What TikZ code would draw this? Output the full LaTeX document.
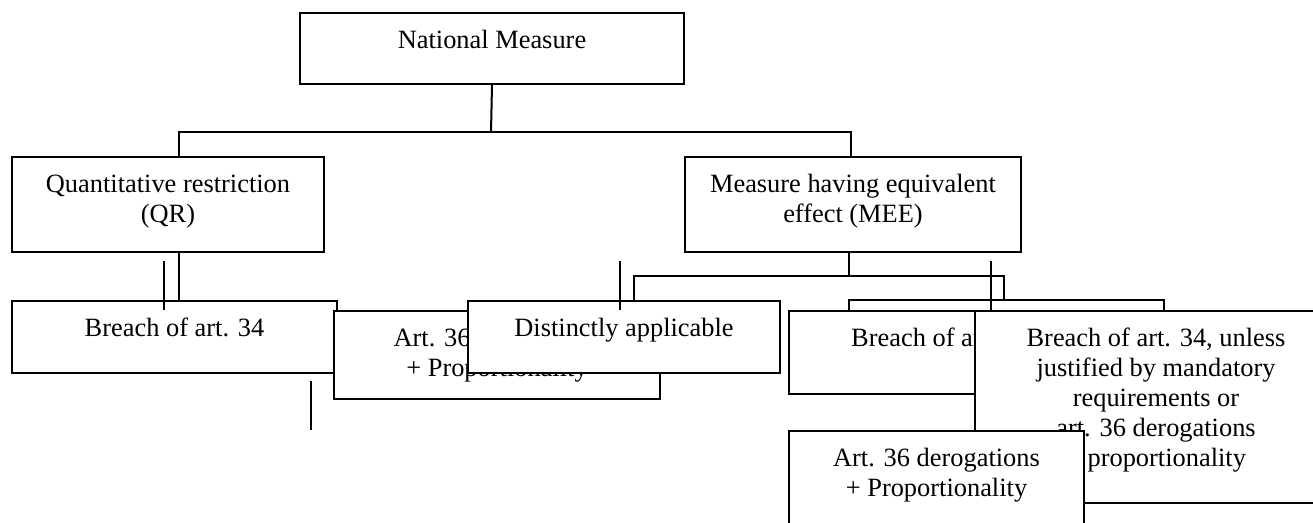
\documentclass[tikz,border=0pt]{standalone}
\usepackage{fontspec}
\setmainfont{Liberation Serif}
\tikzset{
  box/.style={draw=black, fill=white, line width=2pt, inner sep=0pt,
    text height=35pt, anchor=north west,
    font=\fontsize{26.4}{30}\selectfont},
  conn/.style={draw=black, line width=2pt}
}
\newcommand{\bx}[2]{\parbox[t]{#1pt}{\centering #2}}
\begin{document}
\begin{tikzpicture}[x=1pt, y=-1pt]
\useasboundingbox (0,0) rectangle (1313,522);
% boxes (in drawing order)
\node[box, text depth=36pt] (nm) at (299,12) {\bx{384}{National Measure}};
\node[box, text depth=60pt] (qr) at (11,156) {\bx{312}{Quantitative restriction\\(QR)}};
\node[box, text depth=60pt] (mee) at (684,156) {\bx{336}{Measure having equivalent\\effect (MEE)}};
\node[box, text depth=37pt] (b34) at (11,300) {\bx{325}{Breach of art. 34}};
\node[box, text depth=53pt] (a36) at (333,310) {\bx{326}{Art. 36 derogations\\+ Proportionality}};
\node[box, text depth=37pt] (da) at (467,300) {\bx{312}{Distinctly applicable}};
\node[box, text depth=48pt] (b34b) at (788,310) {\bx{304}{Breach of art. 34}};
\node[box, text depth=157pt] (big) at (974,310) {\bx{362}{Breach of art. 34, unless\\justified by mandatory\\requirements or\\art. 36 derogations\\+ proportionality}};
\node[box, text depth=75pt] (a36b) at (788,430) {\bx{295}{Art. 36 derogations\\+ Proportionality}};
% junction coordinates
\coordinate (j1) at (491,132);
\coordinate (qrc) at (179,132);
\coordinate (mec) at (851,132);
\coordinate (m1) at (849,276);
\coordinate (da1) at (634,276);
\coordinate (r1) at (1004,276);
\coordinate (r2) at (1004,300);
\coordinate (br1) at (849,300);
\coordinate (br2) at (1164,300);
% connectors
\draw[conn] (nm.south) -- (j1);
\draw[conn] (qrc |- qr.north) -- (qrc) -- (mec) -- (mec |- mee.north);
\draw[conn] (qr.south -| qrc) -- (qrc |- b34.north);
\draw[conn] (mee.south -| m1) -- (m1);
\draw[conn] (da1 |- da.north) -- (da1) -- (r1) -- (r2);
\draw[conn] (br1 |- b34b.north) -- (br1) -- (br2) -- (br2 |- big.north);
% stray strokes
\coordinate (s1a) at (164,261); \coordinate (s1b) at (164,310);
\coordinate (s2a) at (620,261); \coordinate (s2b) at (620,310);
\coordinate (s3a) at (991,261); \coordinate (s3b) at (991,310);
\coordinate (s4a) at (311,381); \coordinate (s4b) at (311,430);
\draw[conn] (s1a) -- (s1b);
\draw[conn] (s2a) -- (s2b);
\draw[conn] (s3a) -- (s3b);
\draw[conn] (s4a) -- (s4b);
\end{tikzpicture}
\end{document}
